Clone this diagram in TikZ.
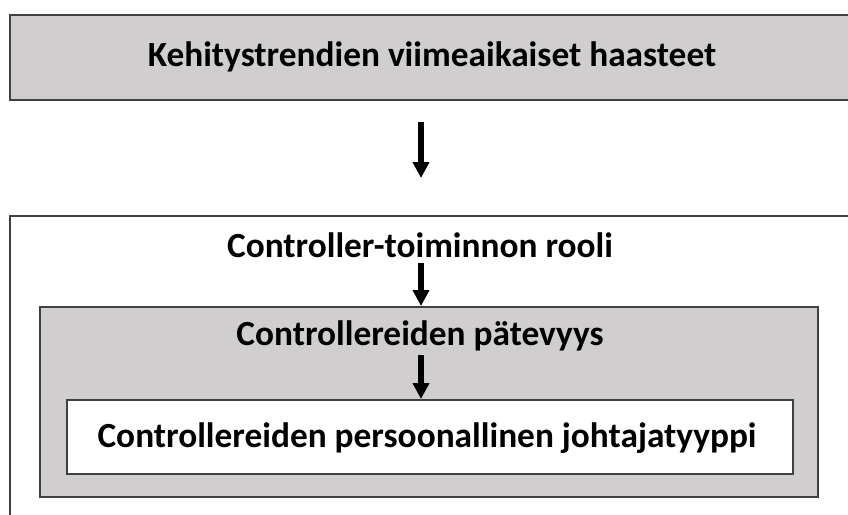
\documentclass[tikz,border=0pt]{standalone}
\usepackage{fontspec}
\setmainfont{Carlito}
\usetikzlibrary{arrows.meta}
\definecolor{boxgray}{RGB}{208,206,207}
\definecolor{edgegray}{RGB}{64,64,64}
\begin{document}
\begin{tikzpicture}[x=0.75pt,y=-0.75pt,
  panel/.style={draw=edgegray,line width=1.5pt},
  caption/.style={font=\fontsize{26.5}{31}\selectfont\bfseries,inner sep=0pt,anchor=base},
  flow/.style={line width=4.5pt,-{Triangle[width=12pt,length=12pt]}}]
\useasboundingbox (0,0) rectangle (848,514);
\clip (0,0) rectangle (848,514);
% frames
\draw[panel,fill=boxgray] (10,15) rectangle (870,100);
\draw[panel,fill=white] (10,216) rectangle (870,540);
\draw[panel,fill=boxgray] (40,307) rectangle (818,497);
\draw[panel,fill=white] (67,400) rectangle (793,474);
% captions
\node[caption] (trends) at (432,66) {Kehitystrendien viimeaikaiset haasteet};
\node[caption] (role) at (420,257) {Controller-toiminnon rooli};
\node[caption] (skill) at (420,345) {Controllereiden pätevyys};
\node[caption] (persona) at (427,447) {Controllereiden persoonallinen johtajatyyppi};
% arrow end points
\coordinate (a1s) at (421,122);
\coordinate (a1e) at (421,178);
\coordinate (a2s) at (421,263);
\coordinate (a2e) at (421,306);
\coordinate (a3s) at (421,355);
\coordinate (a3e) at (421,399);
\draw[flow] (a1s) -- (a1e);
\draw[flow] (a2s) -- (a2e);
\draw[flow] (a3s) -- (a3e);
\end{tikzpicture}
\end{document}
